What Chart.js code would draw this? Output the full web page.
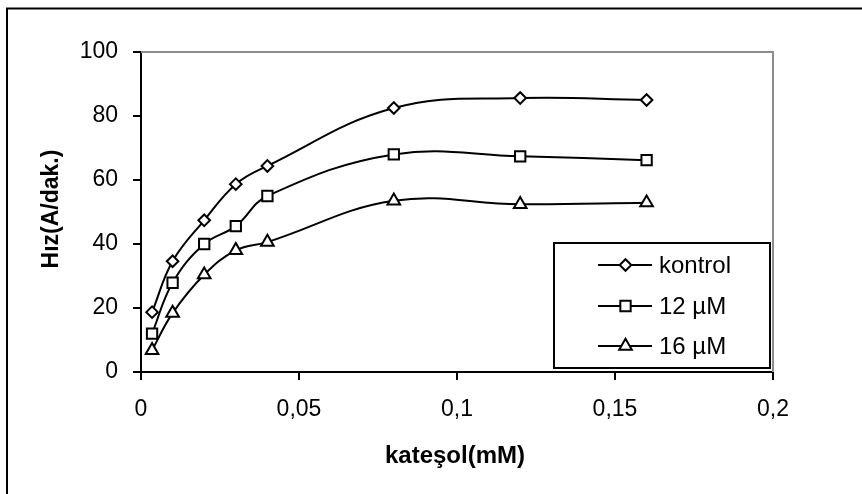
<!DOCTYPE html>
<html>
<head>
<meta charset="utf-8">
<script src="https://cdn.jsdelivr.net/npm/chart.js@4/dist/chart.umd.min.js"></script>
<style>
  html, body { margin: 0; padding: 0; background: #fff; }
  #wrap { position: relative; width: 862px; height: 494px; }
</style>
</head>
<body>
<div id="wrap"><canvas id="rateChart"></canvas></div>
<script>
// substrate concentration (mM)
const kateSol = [0.0035, 0.01, 0.02, 0.03, 0.04, 0.08, 0.12, 0.16];
// rate values
const kontrol = [18.7, 34.6, 47.4, 58.7, 64.4, 82.5, 85.6, 85.0];
const inh12 = [12.0, 27.9, 40.0, 45.6, 55.0, 68.0, 67.4, 66.2];
const inh16 = [6.8, 18.4, 30.4, 38.0, 40.6, 53.5, 52.4, 52.9];

const seriesNames = ['kontrol', '12 µM', '16 µM'];
const xTickLabels = ['0', '0,05', '0,1', '0,15', '0,2'];
const yTickLabels = ['0', '20', '40', '60', '80', '100'];

const FONT = '"Liberation Sans", Arial, sans-serif';

function toPoints(values) {
  return values.map((v, i) => ({ x: kateSol[i], y: v }));
}

function makeSet(label, values, style, radius) {
  return {
    label: label,
    data: toPoints(values),
    borderColor: '#000',
    borderWidth: 2,
    backgroundColor: '#fff',
    pointStyle: style,
    pointRadius: radius,
    pointBorderWidth: 2,
    pointBackgroundColor: '#fff',
    pointBorderColor: '#000',
    tension: 0.4,
    fill: false
  };
}

// outer frame, gray plot border, axis titles and the legend box
const decorations = {
  id: 'decorations',
  beforeDatasetsDraw(chart) {
    const ctx = chart.ctx;
    const a = chart.chartArea;
    ctx.save();
    ctx.strokeStyle = '#8c8c8c';
    ctx.lineWidth = 2;
    ctx.beginPath();
    ctx.moveTo(a.left, a.top);
    ctx.lineTo(a.right, a.top);
    ctx.lineTo(a.right, a.bottom);
    ctx.stroke();
    ctx.restore();
  },
  afterDraw(chart) {
    const ctx = chart.ctx;
    ctx.save();

    // frame: only top and left edges are visible
    ctx.strokeStyle = '#000';
    ctx.lineWidth = 2;
    ctx.beginPath();
    ctx.moveTo(7, 494);
    ctx.lineTo(7, 8.5);
    ctx.lineTo(862, 8.5);
    ctx.stroke();

    // axis titles
    ctx.fillStyle = '#000';
    ctx.font = 'bold 24px ' + FONT;
    ctx.textAlign = 'center';
    ctx.textBaseline = 'middle';
    ctx.fillText('kateşol(mM)', 455, 456);

    ctx.save();
    ctx.translate(52, 209);
    ctx.rotate(-Math.PI / 2);
    ctx.font = 'bold 23px ' + FONT;
    ctx.fillText('Hız(A/dak.)', 0, 0);
    ctx.restore();

    // legend
    ctx.fillStyle = '#fff';
    ctx.fillRect(554, 243, 216, 125);
    ctx.strokeStyle = '#000';
    ctx.lineWidth = 2;
    ctx.strokeRect(554, 243, 216, 125);

    const rows = [265, 306, 346];
    chart.data.datasets.forEach((ds, i) => {
      const y = rows[i];
      ctx.strokeStyle = '#000';
      ctx.lineWidth = 2;
      ctx.beginPath();
      ctx.moveTo(598, y);
      ctx.lineTo(652, y);
      ctx.stroke();
      ctx.fillStyle = '#fff';
      ctx.strokeStyle = '#000';
      Chart.helpers.drawPoint(ctx, {
        pointStyle: ds.pointStyle,
        radius: ds.pointRadius,
        rotation: 0,
        borderWidth: 2
      }, 625.5, y);
      ctx.fillStyle = '#000';
      ctx.font = '24px ' + FONT;
      ctx.textAlign = 'left';
      ctx.textBaseline = 'middle';
      ctx.fillText(ds.label, 659, y + 1);
    });

    ctx.restore();
  }
};

const ctx = document.getElementById('rateChart').getContext('2d');
new Chart(ctx, {
  type: 'line',
  data: {
    datasets: [
      makeSet(seriesNames[0], kontrol, 'rectRot', 5.8),
      makeSet(seriesNames[1], inh12, 'rect', 7.3),
      makeSet(seriesNames[2], inh16, 'triangle', 7.3)
    ]
  },
  options: {
    responsive: true,
    maintainAspectRatio: false,
    animation: false,
    layout: { padding: { left: 0, top: 52, right: 89, bottom: 0 } },
    scales: {
      x: {
        type: 'linear',
        min: 0,
        max: 0.2,
        afterFit(scale) { scale.height = 122; },
        ticks: {
          stepSize: 0.05,
          color: '#000',
          padding: 16,
          maxRotation: 0,
          font: { family: FONT, size: 23 },
          callback: (v, i) => xTickLabels[i]
        },
        grid: { drawOnChartArea: false, drawTicks: true, tickLength: 8, color: '#000', lineWidth: 2 },
        border: { color: '#000', width: 2 }
      },
      y: {
        min: 0,
        max: 100,
        afterFit(scale) { scale.width = 141; },
        ticks: {
          stepSize: 20,
          color: '#000',
          padding: 15,
          font: { family: FONT, size: 23 },
          callback: (v, i) => yTickLabels[i]
        },
        grid: { drawOnChartArea: false, drawTicks: true, tickLength: 8, color: '#000', lineWidth: 2 },
        border: { color: '#000', width: 2 }
      }
    },
    plugins: {
      legend: { display: false },
      tooltip: { enabled: false }
    }
  },
  plugins: [decorations]
});
</script>
</body>
</html>
